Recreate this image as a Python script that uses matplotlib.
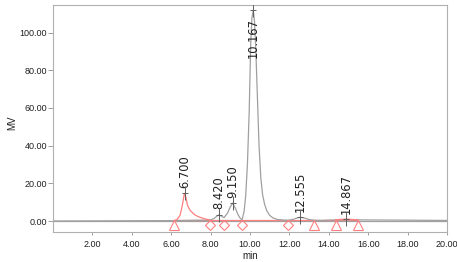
import matplotlib
matplotlib.use("Agg")
import matplotlib.pyplot as plt

# chromatogram trace (time in min, signal in MV)
trace_t = [0.0, 6.14, 7.97, 8.15, 8.30, 8.42, 8.55, 8.68, 8.85, 9.00, 9.12, 9.25,
           9.40, 9.52, 9.60, 9.70, 9.78, 9.87, 9.96, 10.04, 10.10, 10.167, 10.23,
           10.30, 10.38, 10.46, 10.55, 10.64, 10.74, 10.85, 11.00, 11.17, 11.40,
           11.70, 11.95, 12.20, 12.40, 12.555, 12.75, 13.00, 13.27, 13.60, 14.00,
           14.35, 15.46, 20.0]
trace_v = [0.0, 0.2, 0.5, 1.2, 2.4, 3.3, 2.6, 1.8, 4.0, 7.5, 9.5, 7.0,
           3.2, 1.2, 0.8, 5.0, 13.0, 30.0, 58.0, 95.0, 108.0, 112.0, 106.0,
           90.0, 65.0, 40.0, 23.0, 14.0, 9.0, 5.5, 3.0, 1.6, 0.8,
           0.5, 0.4, 0.9, 1.6, 2.0, 1.6, 0.8, 0.4, 0.3, 0.5,
           0.6, 0.6, 0.3]

# integrated (red) parts
peak1_t = [6.14, 6.30, 6.45, 6.57, 6.67, 6.75, 6.82, 6.95, 7.10, 7.21, 7.40, 7.63, 7.80, 7.97]
peak1_v = [0.2, 0.8, 3.0, 8.5, 14.7, 12.5, 8.5, 5.8, 4.2, 3.2, 2.2, 1.4, 0.9, 0.5]
peak6_t = [14.35, 14.60, 14.867, 15.10, 15.46]
peak6_v = [0.6, 0.9, 1.0, 0.9, 0.6]

# apex labels
apex_t = [6.70, 8.42, 9.15, 10.167, 12.555, 14.867]
apex_v = [14.7, 3.3, 9.5, 112.0, 2.0, 1.0]
apex_lbl = ["6.700", "8.420", "9.150", "10.167", "12.555", "14.867"]

# baseline start/end markers
tri_t = [6.14, 13.27, 14.35, 15.46]
dia_t = [7.97, 8.68, 9.59, 11.95]

red = "#ff8080"
grey = "#a0a0a0"

fig = plt.figure(figsize=(4.57, 2.62), dpi=100)
ax = fig.add_axes([0.116, 0.1145, 0.862, 0.8665])

ax.axhline(0, color=grey, lw=0.9, zorder=1)
ax.plot([6.14, 15.46], [0.3, 0.3], color=red, lw=0.9, zorder=2)
ax.plot(trace_t, trace_v, color=grey, lw=0.9, zorder=2)
ax.plot(peak1_t, peak1_v, color=red, lw=0.9, zorder=3)
ax.plot(peak6_t, peak6_v, color=red, lw=0.9, zorder=3)

ax.plot(tri_t, [-2] * len(tri_t), ls="none", marker="^", ms=7, mfc="none", mec=red, mew=0.8, zorder=4)
ax.plot(dia_t, [-2] * len(dia_t), ls="none", marker="D", ms=5.5, mfc="none", mec=red, mew=0.8, zorder=4)

ax.plot(apex_t, apex_v, ls="none", marker="|", ms=10, mec="#606060", mew=0.7, zorder=5)
ax.plot(apex_t, apex_v, ls="none", marker="_", ms=4, mec="#606060", mew=0.7, zorder=5)

for t, v, s in zip(apex_t, apex_v, apex_lbl):
    if v > 100:
        ax.text(t, 108, s, rotation=90, ha="center", va="top", fontsize=8.3, color="#202020")
    else:
        ax.annotate(s, (t, v), xytext=(0, 4), textcoords="offset points",
                    rotation=90, ha="center", va="bottom", fontsize=8.3, color="#202020")

ax.set_xlim(0, 20)
ax.set_ylim(-5.84, 114.7)
ax.set_xticks([2, 4, 6, 8, 10, 12, 14, 16, 18, 20])
ax.set_yticks([0, 20, 40, 60, 80, 100])
ax.xaxis.set_major_formatter(matplotlib.ticker.FormatStrFormatter("%.2f"))
ax.yaxis.set_major_formatter(matplotlib.ticker.FormatStrFormatter("%.2f"))
for lab in ax.get_xticklabels() + ax.get_yticklabels():
    lab.set_fontfamily("Liberation Sans")
ax.tick_params(axis="x", length=2, width=0.7, color=grey, pad=4, labelsize=6.5, labelcolor="#202020")
ax.tick_params(axis="y", length=3.6, width=0.7, color=grey, pad=0.5, labelsize=6.5, labelcolor="#202020")
for sp in ax.spines.values():
    sp.set_color("#b0b0b0")
    sp.set_linewidth(0.8)

ax.set_xlabel("min", fontsize=7, family="Liberation Sans", color="#202020")
ax.set_ylabel("MV", fontsize=7, family="Liberation Sans", color="#202020")
ax.xaxis.set_label_coords(0.5, -0.085)
ax.yaxis.set_label_coords(-0.09, 0.48)

fig.savefig("out.png", dpi=100)
